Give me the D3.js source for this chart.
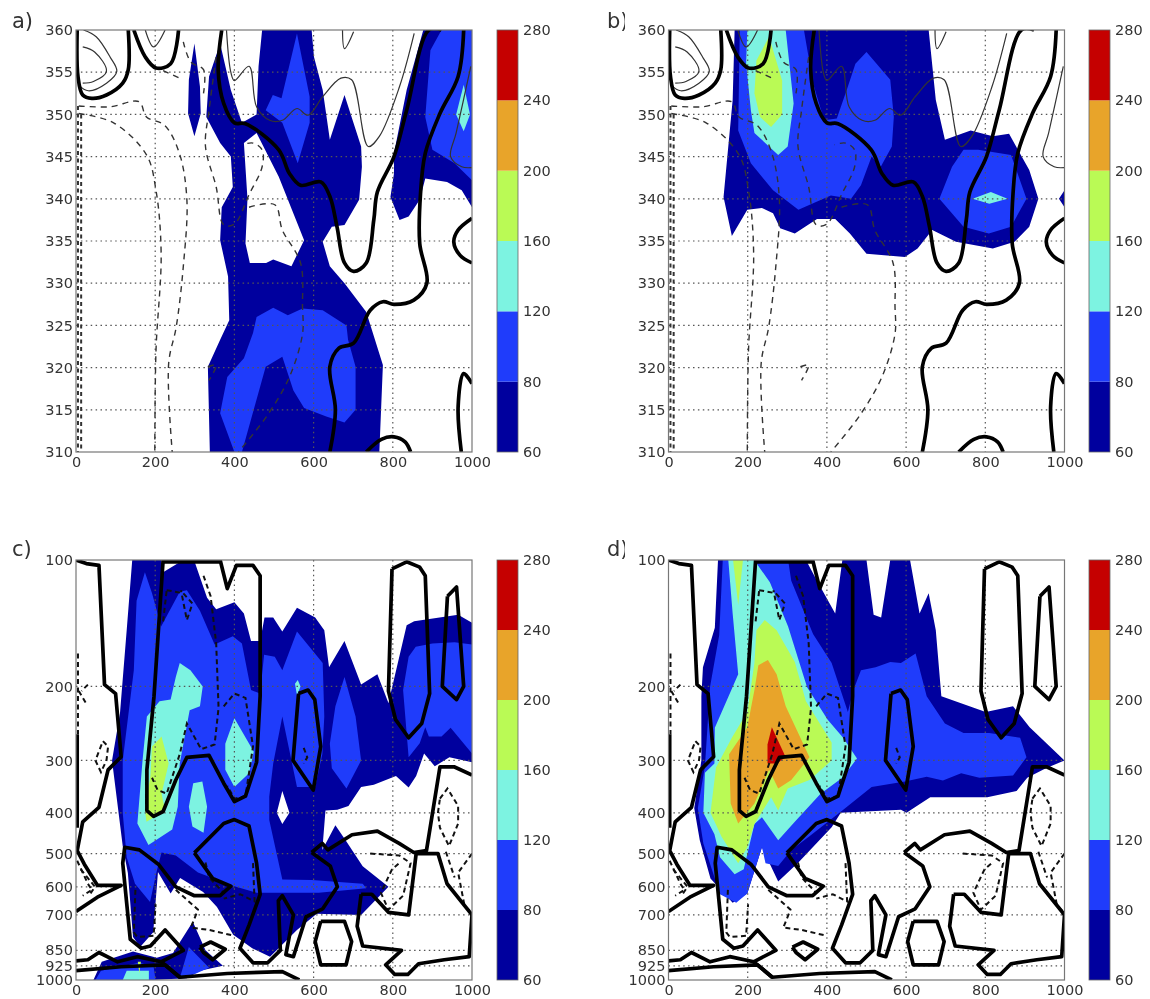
<!DOCTYPE html>
<html><head><meta charset="utf-8">
<style>html,body{margin:0;padding:0;background:#fff}svg{display:block;filter:blur(0.75px)}text{font-family:"DejaVu Sans",sans-serif;fill:#333}</style>
<script src="https://cdn.jsdelivr.net/npm/d3@7"></script></head><body>
<script>
const levels=[60,80,120,160,200,240,280];
const levelColors=["#00009e","#1f3cfb","#7df3e1","#bafa55","#e8a42a","#c50000"];
const xTicks=[0,200,400,600,800,1000];
const thetaTicks=[310,315,320,325,330,335,340,345,350,355,360];
const pressureTicks=[100,200,300,400,500,600,700,850,925,1000];

// ---- panel a: filled regions [distance, theta]
const a60=[
[[299,358.4],[313,353.3],[315,350.1],[299,347.4],[283,350.1],[285,354.1]],
[[364,358.4],[391,352.9],[419,349],[456,350],[461,355.7],[470,360],[595,360],[601,356.8],[623,352.9],[641,347],[678,352.3],[720,346.2],[722,343.8],[715,339.9],[678,336.9],[646,336.7],[623,334.9],[641,332],[678,330],[733,326.6],[775,320.3],[766,310],[338,310],[333,320.1],[364,323.3],[387,325.6],[384,330.8],[364,335.1],[368,339],[396,341.4],[391,345],[364,346.6],[329,349.7],[336,354.5]],
[[456,347.8],[512,342.6],[576,335.1],[544,332],[498,332.8],[480,332.4],[439,332.4],[428,334.7],[433,340],[424,346.6]],
[[794,340.2],[817,337.5],[840,337.9],[868,339.9],[882,342.4],[937,342],[974,341],[1000,339],[1000,360],[877,360],[835,352.9],[803,345.4],[803,343]]
];
const a80=[
[[558,359.6],[590,352.1],[590,349],[560,344.2],[521,349],[479,350.5],[497,352.3],[519,351.9]],
[[498,327.1],[535,326.2],[572,327],[623,326.8],[683,325],[687,323.3],[706,320.1],[706,315],[678,313.5],[632,314.2],[576,315.2],[549,317.3],[521,321.3],[479,320.1],[419,310],[400,310],[364,314.6],[382,318.9],[424,321.1],[447,324.1],[456,326]],
[[923,360],[1000,360],[1000,342.2],[956,344.2],[900,345.8],[882,349.7],[895,357.6]]
];
const a120=[[[979,353.5],[995,350],[979,348],[960,350]]];

// ---- panel b
const b60=[
[[167,360],[162,351.7],[139,340.2],[160,335.6],[199,338.7],[236,338.9],[264,338.3],[282,336.5],[319,335.9],[375,337.6],[421,337.6],[458,335.9],[500,333.5],[597,333.1],[629,334.1],[666,336.3],[726,334.9],[819,334.1],[874,334.9],[911,336.7],[934,340],[911,343.4],[860,347.7],[819,347.4],[763,348.1],[698,347],[675,351.7],[657,360]],
[[1000,341],[986,340],[1000,339]]
];
const b80=[
[[180,360],[176,348.1],[208,344.2],[264,341],[328,338.7],[410,340.4],[461,340],[486,341.6],[513,345],[536,343.8],[564,346.2],[569,349.7],[560,354.1],[500,357.4],[472,356],[453,353.3],[425,349.5],[393,349.3],[365,353.7],[342,360]],
[[745,345.8],[782,345.8],[865,345.2],[904,340],[865,336.7],[809,335.9],[745,336.7],[684,340],[716,343.8]]
];
const b120=[
[[199,360],[196,356],[208,350.5],[217,347.8],[277,345.2],[301,346.2],[316,351.3],[296,360]],
[[768,340],[814,340.8],[856,340],[810,339.4]]
];
const b160=[[[222,356.4],[217,352.5],[231,349.7],[259,348.5],[287,350],[287,354],[254,359.2]]];

// ---- panel c: filled regions [distance, pressure]
const c60=[
[[142,100],[215,100],[220,107],[271,100],[298,100],[331,123],[354,131],[400,126],[424,134],[442,156],[465,156],[476,137],[498,137],[521,148],[558,130],[604,137],[627,147],[639,180],[678,156],[720,198],[761,187],[789,219],[835,143],[854,140],[965,135],[1000,141],[1000,303],[943,295],[906,310],[879,289],[859,327],[840,348],[808,327],[752,343],[720,347],[688,385],[660,393],[630,395],[622,490],[655,428],[682,467],[724,536],[789,600],[720,700],[608,695],[558,760],[490,880],[445,840],[397,780],[356,670],[321,617],[263,572],[239,622],[207,553],[195,770],[162,835],[144,790],[131,556],[118,480],[91,300],[111,232],[128,147]],
[[521,355],[539,400],[521,425],[507,400]],
[[44,1000],[65,905],[144,855],[204,885],[245,862],[295,727],[327,850],[371,925],[313,950],[280,990],[188,1000]]
];
const c80=[
[[174,107],[192,120],[215,144],[262,119],[280,118],[313,132],[350,159],[396,152],[419,158],[442,204],[465,208],[475,168],[502,170],[521,183],[558,148],[623,176],[627,236],[622,290],[604,347],[558,347],[521,236],[498,305],[488,366],[488,416],[521,576],[595,578],[724,590],[733,605],[613,620],[456,620],[400,598],[308,555],[252,505],[216,497],[204,550],[187,652],[149,590],[128,510],[118,400],[118,300],[146,183],[153,125]],
[[49,1000],[63,950],[160,910],[196,930],[201,1000]],
[[262,990],[285,835],[336,935],[303,965]],
[[858,161],[900,158],[956,157],[1000,159],[1000,289],[946,251],[923,263],[891,263],[882,250],[868,273],[840,295],[826,204],[840,170]],
[[678,190],[706,236],[720,300],[683,350],[646,313],[641,274],[655,223]]
];
const c120=[
[[262,176],[289,183],[320,200],[313,223],[287,228],[262,305],[257,387],[243,438],[183,477],[155,424],[168,300],[179,236],[211,217],[239,215],[252,190]],
[[400,238],[449,286],[437,322],[400,347],[377,316],[377,274]],
[[296,340],[319,337],[331,387],[322,446],[294,431],[285,387]],
[[560,193],[567,200],[558,210],[553,197]],
[[118,1000],[128,950],[184,950],[184,1000]]
];
const c160=[
[[216,263],[234,305],[216,360],[225,395],[178,420],[174,395],[188,326],[192,278]],
[[156,905],[164,905],[160,965]]
];

// ---- panel d
const d60=[[[125,100],[117,145],[87,180],[83,211],[83,250],[83,300],[65,390],[79,465],[106,573],[162,655],[199,622],[236,483],[277,583],[328,525],[412,433],[435,400],[587,393],[601,400],[661,367],[805,367],[879,355],[906,330],[953,313],[1000,300],[912,250],[870,223],[801,230],[689,211],[675,147],[657,120],[634,134],[610,100],[560,100],[537,137],[518,135],[500,100],[439,100],[421,134],[375,112],[347,100]]];
const d80=[[[137,100],[128,151],[105,200],[92,310],[74,390],[88,473],[130,625],[171,655],[199,622],[236,483],[245,527],[277,535],[310,490],[356,455],[439,395],[513,347],[597,337],[652,328],[693,335],[739,322],[785,330],[870,326],[904,295],[888,265],[810,258],[745,258],[698,245],[652,211],[624,167],[587,176],[560,175],[523,180],[486,183],[467,204],[453,230],[412,176],[365,150],[310,112],[302,100]]];
const d120=[[[151,100],[162,134],[176,187],[117,251],[116,305],[92,321],[88,400],[116,450],[130,510],[167,560],[190,545],[217,425],[236,410],[277,465],[319,420],[384,360],[439,330],[476,297],[441,265],[402,240],[350,201],[302,144],[256,113],[226,103],[218,100]]];
const d160=[
[[163,100],[188,100],[176,128]],
[[243,139],[273,147],[319,175],[347,217],[412,272],[412,300],[356,334],[301,350],[277,395],[259,367],[217,425],[199,483],[176,527],[134,456],[106,400],[120,312],[160,265],[199,230],[217,176],[222,147]]
];
const d200=[[[251,173],[273,187],[296,223],[356,295],[310,334],[277,350],[254,316],[217,380],[176,424],[157,380],[153,290],[199,250],[217,204],[227,178]]];
const d240=[[[261,250],[296,295],[273,305],[250,305],[250,275]]];

// ---- theta contours shared by a and b
const thetaThick=[
[[3,360],[5,354.5],[17,352.3],[40,351.9],[77,352.3],[118,353.7],[132,355.3],[132,360]],
[[146,360],[175,356.8],[202,355.5],[239,356],[259,360]],
[[368,360],[359,355.3],[373,351.3],[400,349],[428,348.9],[512,345.8],[539,343],[567,341.6],[618,342],[641,340.3],[659,336.7],[678,332.4],[701,331.4],[733,332.4],[752,337.5],[761,340.8],[803,345],[835,350.5],[891,360],[923,360]],
[[979,360],[965,354.5],[919,350.1],[882,345.4],[870,340.6],[868,334.7],[886,330],[853,328],[803,327.5],[775,327.8],[743,326.8],[701,322.9],[664,322.3],[641,320.1],[655,315],[641,310]],
[[1000,337.7],[965,336.3],[954,334.9],[970,333.3],[1000,332.4]],
[[973,310],[965,315.4],[979,319.3],[1000,318.1]],
[[733,310],[771,311.5],[803,311.8],[831,311.2],[845,310]]
];
const thetaThin=[
[[19,360],[51,359.2],[86,356.8],[103,355.1],[77,353.7],[31,352.8],[6,353.5]],
[[17,358],[47,357.4],[77,355.1],[44,353.9],[17,353.7]],
[[175,360],[196,358],[225,360]],
[[380,360],[391,355],[400,354],[437,355.7],[456,350.9],[489,349.3],[521,349.3],[558,350.7],[586,349.9],[623,352.1],[669,354.3],[696,354.1],[738,346.2],[766,347.4],[817,353.3],[854,359.6]],
[[673,360],[678,357.8],[701,359.8]],
[[997,355.7],[960,347.8],[946,345],[974,343.8],[1000,343.7]]
];
const thetaDashed=[
[[7,351],[86,350.9],[159,351.5],[178,349.7],[224,348.7],[261,345.4],[280,339.9],[271,332],[253,324.8],[234,320.5],[243,310]],
[[7,350.1],[95,349],[178,345.2],[202,341],[215,333.5],[202,322],[199,310]],
[[220,355.2],[261,354.3]],
[[271,358.6],[290,356.2],[322,355.3],[322,352.5]],
[[354,356.8],[336,350.5],[327,346.2],[354,341.4],[373,336.9],[400,337],[437,340.5],[470,343.8],[470,345.8],[447,346.6],[419,346.4]],
[[437,339],[502,339.3],[521,336.3],[567,332.4],[572,327.2],[572,324],[539,318.9],[484,314.4],[410,310]],
[[333,320.1],[354,320.3],[336,318.5]]
];
const thetaEdgeDashed=[[[5,351],[5,310]],[[13,350],[13,310]]];

// ---- pressure contours shared by c and d
const pressureThick=[
[[0,100],[26,102],[58,103],[72,198],[100,208],[114,294],[81,316],[58,388],[17,420],[3,492],[21,530],[54,595],[114,595],[54,635],[0,687]],
[[3,260],[3,434]],
[[220,100],[197,211],[179,316],[179,395],[196,408],[220,397],[252,334],[280,295],[336,292],[373,340],[400,376],[428,365],[456,303],[465,211],[465,109],[447,103],[405,103],[382,117],[364,100]],
[[220,101],[364,101]],
[[562,208],[586,204],[603,215],[618,278],[599,353],[548,300],[562,208]],
[[798,105],[835,101],[868,104],[882,109],[893,208],[873,245],[840,265],[807,240],[789,205],[798,105]],
[[938,122],[961,116],[979,200],[961,215],[925,200],[938,122]],
[[595,497],[622,473],[636,490],[697,451],[761,442],[816,473],[853,497],[885,492],[919,311],[956,311],[1000,325]],
[[299,498],[373,424],[400,415],[437,430],[456,527],[465,625],[437,740],[414,840],[447,910],[484,910],[516,850],[511,647],[521,630],[549,700],[530,870],[549,880],[581,707],[623,677],[660,600],[642,535],[595,497]],
[[299,498],[345,573],[391,598],[364,630],[299,630],[252,600],[208,530],[160,490],[123,483],[118,527],[137,800],[165,840],[188,830],[225,760],[271,850],[215,905],[155,880],[105,905],[58,860],[30,895],[0,900]],
[[215,905],[262,985],[382,965],[521,955],[564,1000]],
[[0,950],[114,930],[225,920],[262,985]],
[[313,835],[340,812],[377,845],[345,895],[322,860],[313,835]],
[[618,725],[678,725],[696,810],[682,920],[618,920],[604,810],[618,725]],
[[720,625],[747,625],[789,690],[840,700],[859,500],[914,500],[937,590],[1000,700]],
[[720,625],[710,745],[724,830],[822,850],[782,920],[805,970],[838,970],[865,915],[930,895],[993,880],[1000,700]]
];
const pressureDashed=[
[[7,205],[26,220]],[[30,198],[14,205]],
[[5,167],[5,260]],
[[68,270],[81,278],[77,300],[63,320],[49,300],[68,270]],
[[3,520],[30,590],[40,610],[17,630]],
[[12,545],[48,600],[35,625]],
[[229,118],[271,120],[294,127],[280,139],[265,118]],
[[220,140],[229,118]],
[[322,109],[340,122],[354,158],[360,225],[350,275],[316,282],[280,245],[262,290],[229,360],[206,353],[192,330]],
[[373,223],[400,208],[428,213],[447,278],[428,365],[400,370],[382,345]],
[[575,280],[584,295],[575,305]],
[[327,525],[336,570],[373,620]],
[[252,610],[308,680],[290,750],[336,760],[400,785]],
[[447,527],[451,650],[415,625],[373,640]],
[[743,500],[816,505],[845,527],[826,630],[789,680],[770,620],[798,545],[816,527]],
[[919,370],[938,350],[965,385],[965,424],[942,480],[919,434],[914,400],[919,370]],
[[1000,500],[965,555],[981,665],[998,690]],
[[934,495],[956,570]],
[[150,610],[146,770],[155,790],[196,785],[201,660]]
];

const panels=[
{label:"a)",lx:12,ly:28,x0:76,y0:30,y1:452,cb:497,scale:"theta",fills:[a60,a80,a120],clipLabel:false},
{label:"b)",lx:607,ly:28,x0:668.5,y0:30,y1:452,cb:1089,scale:"theta",fills:[b60,b80,b120,b160],clipLabel:true},
{label:"c)",lx:12,ly:556,x0:76,y0:560,y1:980,cb:497,scale:"p",fills:[c60,c80,c120,c160],clipLabel:false},
{label:"d)",lx:607,ly:556,x0:668.5,y0:560,y1:980,cb:1089,scale:"p",fills:[d60,d80,d120,d160,d200,d240],clipLabel:true}
];
const W=1150,H=999,plotW=396,cbW=21;
const svg=d3.select("body").append("svg").attr("width",W).attr("height",H);
const defs=svg.append("defs");

panels.forEach((p,pi)=>{
  const x=d3.scaleLinear().domain([0,1000]).range([p.x0,p.x0+plotW]);
  const y=p.scale==="theta"
    ? d3.scaleLinear().domain([310,360]).range([p.y1,p.y0])
    : d3.scaleLog().domain([1000,100]).range([p.y1,p.y0]);
  const yT=p.scale==="theta"?thetaTicks:pressureTicks;
  const line=d3.line().x(d=>x(d[0])).y(d=>y(d[1]));
  const isTheta=p.scale==="theta";
  const contourLine=isTheta?d3.line().x(d=>x(d[0])).y(d=>y(d[1])).curve(d3.curveCatmullRom.alpha(0.5)):line;
  const cid="clip"+pi;
  defs.append("clipPath").attr("id",cid).append("rect").attr("x",p.x0).attr("y",p.y0).attr("width",plotW).attr("height",p.y1-p.y0);
  const g=svg.append("g").attr("clip-path",`url(#${cid})`);
  p.fills.forEach((rings,i)=>{
    g.append("path").attr("d",rings.map(r=>line(r)+"Z").join(" ")).attr("fill",levelColors[i]).attr("fill-rule","evenodd");
  });
  // grid
  const gridStyle=s=>s.attr("stroke","#555").attr("stroke-width",1.2).attr("stroke-dasharray","1.5,3.4");
  xTicks.slice(1,-1).forEach(t=>g.append("line").attr("x1",x(t)).attr("x2",x(t)).attr("y1",p.y0).attr("y2",p.y1).call(gridStyle));
  yT.slice(1,-1).forEach(t=>g.append("line").attr("x1",p.x0).attr("x2",p.x0+plotW).attr("y1",y(t)).attr("y2",y(t)).call(gridStyle));
  // contours
  const thick=isTheta?thetaThick:pressureThick;
  const dashed=isTheta?thetaDashed:pressureDashed;
  if(isTheta){
    thetaThin.forEach(c=>g.append("path").attr("d",contourLine(c)).attr("fill","none").attr("stroke","#333").attr("stroke-width",1.2));
    thetaEdgeDashed.forEach(c=>g.append("path").attr("d",line(c)).attr("fill","none").attr("stroke","#333").attr("stroke-width",2).attr("stroke-dasharray","4,3.5"));
  }
  dashed.forEach(c=>g.append("path").attr("d",contourLine(c)).attr("fill","none").attr("stroke",isTheta?"#333":"#111").attr("stroke-width",isTheta?1.4:2).attr("stroke-dasharray",isTheta?"6,5":"5,3.5"));
  thick.forEach(c=>g.append("path").attr("d",contourLine(c)).attr("fill","none").attr("stroke","#000").attr("stroke-width",3.7).attr("stroke-linejoin","round"));
  // frame
  svg.append("rect").attr("x",p.x0).attr("y",p.y0).attr("width",plotW).attr("height",p.y1-p.y0).attr("fill","none").attr("stroke","#777").attr("stroke-width",1.2);
  // axes via d3 axis
  const xAxis=svg.append("g").attr("transform",`translate(0,${p.y1})`).call(d3.axisBottom(x).tickValues(xTicks).tickFormat(d3.format("d")).tickSize(0).tickPadding(5));
  const yAxis=svg.append("g").attr("transform",`translate(${p.x0},0)`).call(d3.axisLeft(y).tickValues(yT).tickFormat(d3.format("d")).tickSize(0).tickPadding(3));
  [xAxis,yAxis].forEach(a=>{a.select(".domain").remove();a.selectAll("text").style("font-size","14.5px").style("font-family",'"DejaVu Sans",sans-serif').attr("fill","#333");});
  // colorbar
  const cy=d3.scalePoint().domain(levels).range([p.y1,p.y0]);
  const bg=svg.append("g");
  bg.selectAll("rect").data(levels.slice(0,-1)).join("rect")
    .attr("x",p.cb).attr("width",cbW)
    .attr("y",(d,i)=>cy(levels[i+1])).attr("height",(d,i)=>cy(levels[i])-cy(levels[i+1]))
    .attr("fill",(d,i)=>levelColors[i]);
  svg.append("rect").attr("x",p.cb).attr("y",p.y0).attr("width",cbW).attr("height",p.y1-p.y0).attr("fill","none").attr("stroke","#666").attr("stroke-width",0.8);
  const cAxis=svg.append("g").attr("transform",`translate(${p.cb+cbW},0)`).call(d3.axisRight(cy).tickSize(0).tickPadding(5));
  cAxis.select(".domain").remove();
  cAxis.selectAll("text").style("font-size","14.5px").style("font-family",'"DejaVu Sans",sans-serif').attr("fill","#333");
  // panel label
  const lab=svg.append("text").attr("x",p.lx).attr("y",p.ly).attr("font-size",21).text(p.label);
  if(p.clipLabel){
    const lid="lab"+pi;
    defs.append("clipPath").attr("id",lid).append("rect").attr("x",p.lx-2).attr("y",p.ly-25).attr("width",20).attr("height",32);
    lab.attr("clip-path",`url(#${lid})`);
  }
});
</script></body></html>
